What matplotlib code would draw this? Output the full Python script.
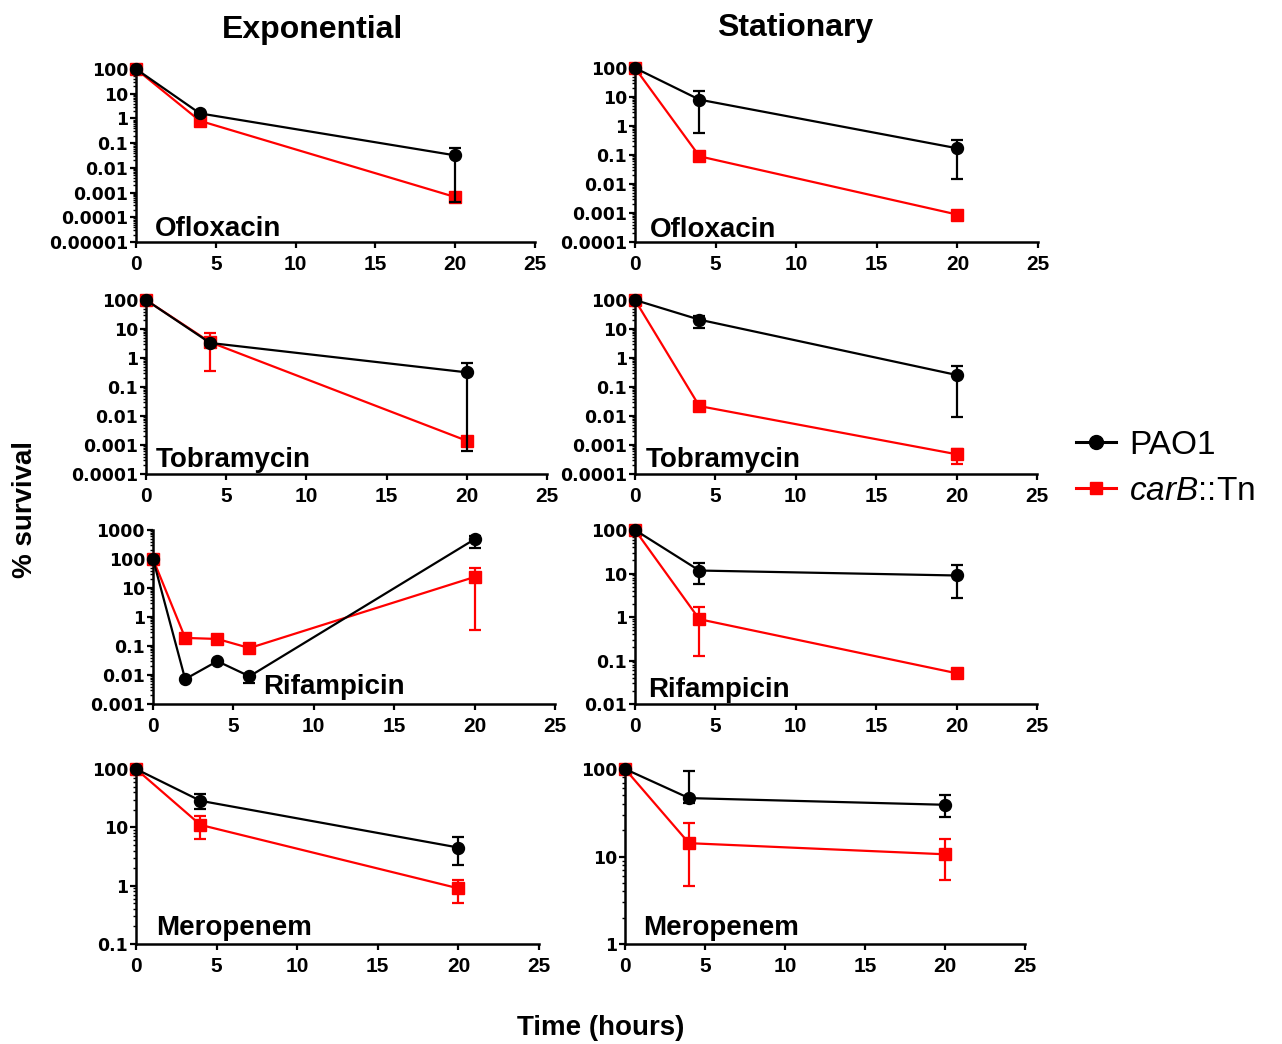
import numpy as np
import matplotlib
matplotlib.use('Agg')
import matplotlib.pyplot as plt
from matplotlib.lines import Line2D
from matplotlib.ticker import FixedLocator, LogLocator, NullFormatter

plt.rcParams['font.family'] = ['Liberation Sans', 'DejaVu Sans']
plt.rcParams['mathtext.fontset'] = 'custom'
plt.rcParams['mathtext.it'] = 'Liberation Sans:italic'
plt.rcParams['mathtext.rm'] = 'Liberation Sans'

# ---------------- data ----------------
column_titles = ["Exponential", "Stationary"]
series_labels = ["PAO1", r"$\mathit{carB}$::Tn"]
x_ticks = [0, 5, 10, 15, 20, 25]

t3 = [0, 4, 20]
t_rif_exp = [0, 2, 4, 6, 20]

# Exponential – Ofloxacin
exp_ofx_pao1 = [100, 1.6, 0.032]
exp_ofx_pao1_lo = [100, 1.35, 0.0004]
exp_ofx_pao1_hi = [100, 1.9, 0.065]
exp_ofx_carb = [100, 0.8, 0.00066]
exp_ofx_carb_lo = [100, 0.7, 0.00045]
exp_ofx_carb_hi = [100, 0.9, 0.0009]

# Stationary – Ofloxacin
stat_ofx_pao1 = [100, 8.1, 0.17]
stat_ofx_pao1_lo = [100, 0.59, 0.015]
stat_ofx_pao1_hi = [100, 16, 0.33]
stat_ofx_carb = [100, 0.09, 0.00088]
stat_ofx_carb_lo = [100, 0.09, 0.00088]
stat_ofx_carb_hi = [100, 0.09, 0.00088]

# Exponential – Tobramycin
exp_tob_pao1 = [100, 3.3, 0.32]
exp_tob_pao1_lo = [100, 2.8, 0.0006]
exp_tob_pao1_hi = [100, 3.8, 0.66]
exp_tob_carb = [100, 3.5, 0.0014]
exp_tob_carb_lo = [100, 0.35, 0.0011]
exp_tob_carb_hi = [100, 7.5, 0.0018]

# Stationary – Tobramycin
stat_tob_pao1 = [100, 21, 0.26]
stat_tob_pao1_lo = [100, 10.6, 0.0092]
stat_tob_pao1_hi = [100, 28, 0.51]
stat_tob_carb = [100, 0.022, 0.00048]
stat_tob_carb_lo = [100, 0.02, 0.00023]
stat_tob_carb_hi = [100, 0.025, 0.0007]

# Exponential – Rifampicin
exp_rif_pao1 = [100, 0.0072, 0.03, 0.009, 480]
exp_rif_pao1_lo = [100, 0.0072, 0.03, 0.0055, 240]
exp_rif_pao1_hi = [100, 0.0072, 0.03, 0.011, 600]
exp_rif_carb = [100, 0.19, 0.175, 0.085, 24]
exp_rif_carb_lo = [100, 0.19, 0.175, 0.085, 0.35]
exp_rif_carb_hi = [100, 0.19, 0.175, 0.085, 48]

# Stationary – Rifampicin
stat_rif_pao1 = [100, 11.7, 9.0]
stat_rif_pao1_lo = [100, 5.8, 2.75]
stat_rif_pao1_hi = [100, 17.5, 15.7]
stat_rif_carb = [100, 0.89, 0.051]
stat_rif_carb_lo = [100, 0.13, 0.051]
stat_rif_carb_hi = [100, 1.68, 0.051]

# Exponential – Meropenem
exp_mer_pao1 = [100, 28.5, 4.5]
exp_mer_pao1_lo = [100, 21, 2.25]
exp_mer_pao1_hi = [100, 37, 6.8]
exp_mer_carb = [100, 11, 0.9]
exp_mer_carb_lo = [100, 6.2, 0.51]
exp_mer_carb_hi = [100, 15.8, 1.24]

# Stationary – Meropenem
stat_mer_pao1 = [100, 46.5, 39]
stat_mer_pao1_lo = [100, 41, 28.6]
stat_mer_pao1_hi = [100, 94, 50]
stat_mer_carb = [100, 14.2, 10.6]
stat_mer_carb_lo = [100, 4.6, 5.4]
stat_mer_carb_hi = [100, 24, 15.9]

drug_names = ["Ofloxacin", "Ofloxacin", "Tobramycin", "Tobramycin",
              "Rifampicin", "Rifampicin", "Meropenem", "Meropenem"]
# decade exponents of the y-axis ranges
y_decades = [(-5, 2), (-4, 2), (-4, 2), (-4, 2),
             (-3, 3), (-2, 2), (-1, 2), (0, 2)]

# ---------------- layout ----------------
W, H = 1282, 1044
fig = plt.figure(figsize=(W / 100, H / 100), dpi=100)

# pixel boxes: (x of 0, x of 25, y of top, y of bottom)
boxes = [(136, 535, 69, 242), (635, 1038, 68, 242),
         (146, 547, 300, 474), (635, 1037, 300, 474),
         (153, 555, 530, 704), (635, 1037, 530, 704),
         (136, 539, 769, 944), (625, 1025, 769, 944)]
label_pos = [(155, 236), (650, 237), (156, 467), (646, 467),
             (263, 694), (648, 697), (156, 935), (643, 935)]

panels = [
    (t3, exp_ofx_pao1, exp_ofx_pao1_lo, exp_ofx_pao1_hi, exp_ofx_carb, exp_ofx_carb_lo, exp_ofx_carb_hi),
    (t3, stat_ofx_pao1, stat_ofx_pao1_lo, stat_ofx_pao1_hi, stat_ofx_carb, stat_ofx_carb_lo, stat_ofx_carb_hi),
    (t3, exp_tob_pao1, exp_tob_pao1_lo, exp_tob_pao1_hi, exp_tob_carb, exp_tob_carb_lo, exp_tob_carb_hi),
    (t3, stat_tob_pao1, stat_tob_pao1_lo, stat_tob_pao1_hi, stat_tob_carb, stat_tob_carb_lo, stat_tob_carb_hi),
    (t_rif_exp, exp_rif_pao1, exp_rif_pao1_lo, exp_rif_pao1_hi, exp_rif_carb, exp_rif_carb_lo, exp_rif_carb_hi),
    (t3, stat_rif_pao1, stat_rif_pao1_lo, stat_rif_pao1_hi, stat_rif_carb, stat_rif_carb_lo, stat_rif_carb_hi),
    (t3, exp_mer_pao1, exp_mer_pao1_lo, exp_mer_pao1_hi, exp_mer_carb, exp_mer_carb_lo, exp_mer_carb_hi),
    (t3, stat_mer_pao1, stat_mer_pao1_lo, stat_mer_pao1_hi, stat_mer_carb, stat_mer_carb_lo, stat_mer_carb_hi),
]

RED = '#ff0000'
LW = 1.6


def draw_series(ax, t, m, lo, hi, color, marker, ms, z):
    m = np.asarray(m, float)
    lo = np.asarray(lo, float)
    hi = np.asarray(hi, float)
    ax.errorbar(t, m, yerr=[m - lo, hi - m], color=color, lw=LW, marker=marker,
                ms=ms, mec=color, mfc=color, elinewidth=LW, capsize=4,
                capthick=LW, clip_on=False, zorder=z)


def dec_label(d):
    return f"{10.0 ** d:.{max(0, -d)}f}"


for i, (box, dat) in enumerate(zip(boxes, panels)):
    x0, x1, yt, yb = box
    ax = fig.add_axes([x0 / W, 1 - yb / H, (x1 - x0) / W, (yb - yt) / H])
    t, p, plo, phi, c, clo, chi = dat
    draw_series(ax, t, c, clo, chi, RED, 's', 8, 3)
    draw_series(ax, t, p, plo, phi, 'black', 'o', 8.6, 4)
    ax.set_yscale('log')
    d0, d1 = y_decades[i]
    ax.set_ylim(10.0 ** d0, 10.0 ** d1)
    ax.set_xlim(0, 25)
    ax.set_xticks(x_ticks)
    ax.set_xticklabels([str(v) for v in x_ticks], fontsize=15, fontweight='bold')
    decs = list(range(d0, d1 + 1))
    ax.yaxis.set_major_locator(FixedLocator([10.0 ** d for d in decs]))
    ax.set_yticklabels([dec_label(d) for d in decs],
                       fontsize=12.5, fontweight='bold', family='DejaVu Sans')
    ax.yaxis.set_minor_locator(LogLocator(base=10, subs=np.arange(2, 10), numticks=100))
    ax.yaxis.set_minor_formatter(NullFormatter())
    for s in ['top', 'right']:
        ax.spines[s].set_visible(False)
    for s in ['left', 'bottom']:
        ax.spines[s].set_linewidth(1.8)
    ax.tick_params(axis='both', which='major', direction='out', length=4.3, width=1.6)
    ax.tick_params(axis='y', which='major', pad=1.5)
    ax.tick_params(axis='x', which='major', pad=5)
    ax.tick_params(axis='y', which='minor', direction='out', length=2.2, width=1.0)
    ax.patch.set_alpha(0)
    lx, ly = label_pos[i]
    fig.text(lx / W, 1 - ly / H, drug_names[i], fontsize=20, fontweight='bold',
             ha='left', va='baseline')

# column titles
fig.text(312 / W, 1 - 38 / H, column_titles[0], fontsize=23, fontweight='bold',
         ha='center', va='baseline')
fig.text(795 / W, 1 - 36 / H, column_titles[1], fontsize=23, fontweight='bold',
         ha='center', va='baseline')

# axis labels
fig.text(25 / W, 1 - 510 / H, "% survival", fontsize=20, fontweight='bold',
         rotation=90, ha='center', va='center')
fig.text(601 / W, 1 - 1028 / H, "Time (hours)", fontsize=20, fontweight='bold',
         ha='center', va='center')

# legend
handles = [Line2D([0], [0], color='black', lw=2.2, marker='o', ms=10),
           Line2D([0], [0], color=RED, lw=2.2, marker='s', ms=9)]
fig.legend(handles, series_labels, loc='center left',
           bbox_to_anchor=(1076 / W, 1 - 468 / H), frameon=False, fontsize=24,
           handlelength=1.2, handletextpad=0.4, labelspacing=0.45,
           borderpad=0, borderaxespad=0)

fig.savefig('out.png', dpi=100)
